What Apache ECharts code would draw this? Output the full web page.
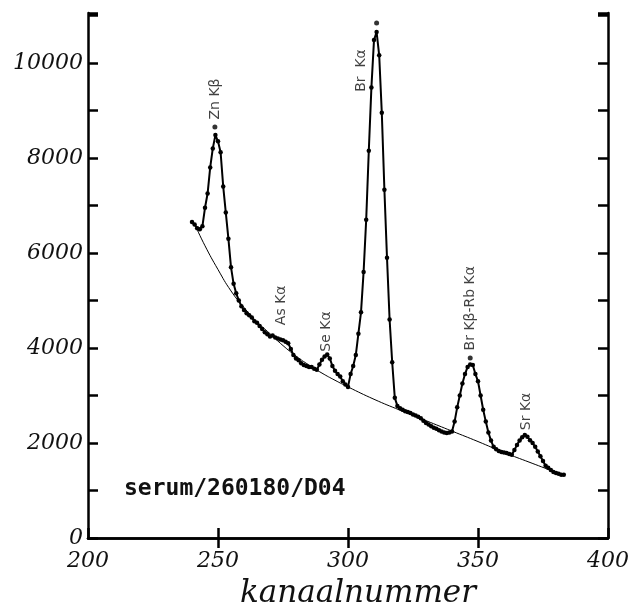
<!DOCTYPE html>
<html><head><meta charset="utf-8">
<script src="https://cdn.jsdelivr.net/npm/echarts@6/dist/echarts.min.js"></script>
<style>html,body{margin:0;padding:0;background:#fff}#c{width:631px;height:605px}</style>
</head><body><div id="c"></div>
<script>
// Measured spectrum: channel numbers and counts
const channels = [240,241,242,243,244,245,246,247,248,249,250,251,252,253,254,255,256,257,258,259,
 260,261,262,263,264,265,266,267,268,269,270,271,272,273,274,275,276,277,278,279,
 280,281,282,283,284,285,286,287,288,289,290,291,292,293,294,295,296,297,298,299,
 300,301,302,303,304,305,306,307,308,309,310,311,312,313,314,315,316,317,318,319,
 320,321,322,323,324,325,326,327,328,329,330,331,332,333,334,335,336,337,338,339,
 340,341,342,343,344,345,346,347,348,349,350,351,352,353,354,355,356,357,358,359,
 360,361,362,363,364,365,366,367,368,369,370,371,372,373,374,375,376,377,378,379,
 380,381,382,383];
const counts = [6650,6600,6520,6500,6560,6950,7250,7800,8200,8480,8350,8120,7400,6850,6300,5700,5350,5150,5000,4880,
 4800,4730,4690,4640,4560,4530,4460,4400,4330,4290,4240,4260,4220,4200,4180,4160,4130,4100,3980,3850,
 3780,3740,3680,3640,3620,3600,3600,3560,3540,3650,3750,3820,3860,3780,3620,3520,3450,3400,3300,3230,
 3180,3450,3620,3850,4300,4750,5600,6700,8150,9480,10480,10650,10160,8950,7330,5900,4600,3700,2950,2780,
 2730,2700,2670,2650,2630,2600,2580,2550,2520,2470,2420,2390,2350,2320,2300,2270,2240,2220,2210,2220,
 2240,2450,2750,3000,3250,3450,3600,3650,3640,3450,3300,3000,2700,2450,2220,2050,1920,1870,1830,1810,
 1800,1790,1770,1750,1850,1960,2050,2120,2170,2130,2060,2000,1920,1820,1720,1620,1520,1480,1430,1390,
 1370,1350,1330,1330];
// Fitted background
const bgChannels = [241.5,245,250,255,260,265,270,275,280,285,290,295,300,310,320,330,340,350,360,370,382];
const bgCounts   = [6550,6150,5650,5200,4850,4550,4300,4050,3830,3640,3470,3320,3180,2920,2690,2470,2250,2030,1800,1590,1340];
// Peak annotations
const peakNames    = ['Zn Kβ','As Kα','Se Kα','Br  Kα','Br Kβ-Rb Kα','Sr Kα'];
const peakChannels = [248.8, 274.5, 291.7, 305.2, 347.0, 368.5];
const peakCounts   = [8650, 4480, 3920, 9390, 3790, 2270];
const peakDots     = [true, false, false, false, true, false];
const extraDotCh = [311];
const extraDotCt = [10841];
const xTicks = [200,250,300,350,400];
const topTicks = [250,300,350];
const yTicks = [0,2000,4000,6000,8000,10000];
const sampleLabel = 'serum/260180/D04';
const xName = 'kanaalnummer';

const spectrum = channels.map((c,i)=>[c,counts[i]]);
const background = bgChannels.map((c,i)=>[c,bgCounts[i]]);
const labelData = peakNames.map((n,i)=>({
  value:[peakChannels[i],peakCounts[i]],
  symbolSize: peakDots[i]?5:0,
  label:{show:true, formatter:n, position:'top', distance: peakDots[i]?5:0,
    rotate:90, align:'left', verticalAlign:'middle',
    fontFamily:'DejaVu Sans', fontSize:14, color:'#111'}
}));
extraDotCh.forEach((c,i)=>labelData.push({value:[c,extraDotCt[i]],symbolSize:5,label:{show:false}}));

const axisCommon = {
  axisLine:{show:true,lineStyle:{color:'#000',width:2.5}},
  axisTick:{show:true,inside:true,length:10,lineStyle:{color:'#000',width:2.5}},
  splitLine:{show:false}
};
const chart = echarts.init(document.getElementById('c'));
chart.setOption({
  animation:false,
  backgroundColor:'#fff',
  grid:{left:88,right:23,top:13,bottom:67,containLabel:false,outerBoundsMode:'none'},
  xAxis:[
    Object.assign({type:'value',min:200,max:400,interval:50,position:'bottom',
      name:xName,nameLocation:'middle',nameGap:40,
      nameTextStyle:{fontFamily:'DejaVu Serif',fontStyle:'italic',fontSize:31,color:'#111',padding:[0,0,0,20]},
      axisLabel:{fontFamily:'DejaVu Serif',fontStyle:'italic',fontSize:22,color:'#111',margin:12,
        formatter:v=>xTicks.includes(v)?String(v):''}},axisCommon),
    Object.assign({},axisCommon,{type:'value',min:200,max:400,interval:50,position:'top',axisLabel:{show:false},
      axisTick:{show:true,inside:true,length:10,customValues:topTicks,lineStyle:{color:'#000',width:2.5}}})
  ],
  yAxis:[
    Object.assign({type:'value',min:0,max:11050,interval:1000,position:'left',
      axisLabel:{fontFamily:'DejaVu Serif',fontStyle:'italic',fontSize:22,color:'#111',margin:5,
        formatter:v=>yTicks.includes(v)?String(v):''}},axisCommon),
    Object.assign({type:'value',min:0,max:11050,interval:1000,position:'right',axisLabel:{show:false}},axisCommon)
  ],
  graphic:[{type:'text',left:124,top:478,style:{text:sampleLabel,font:'bold 23px "DejaVu Sans Mono"',fill:'#111'}}],
  series:[
    {type:'line',data:background,smooth:true,symbol:'none',lineStyle:{color:'#000',width:1},z:2},
    {type:'line',data:spectrum,symbol:'circle',symbolSize:4.5,itemStyle:{color:'#000'},lineStyle:{color:'#000',width:2},z:3},
    {type:'scatter',data:labelData,itemStyle:{color:'#000'},z:4}
  ]
});
</script></body></html>
